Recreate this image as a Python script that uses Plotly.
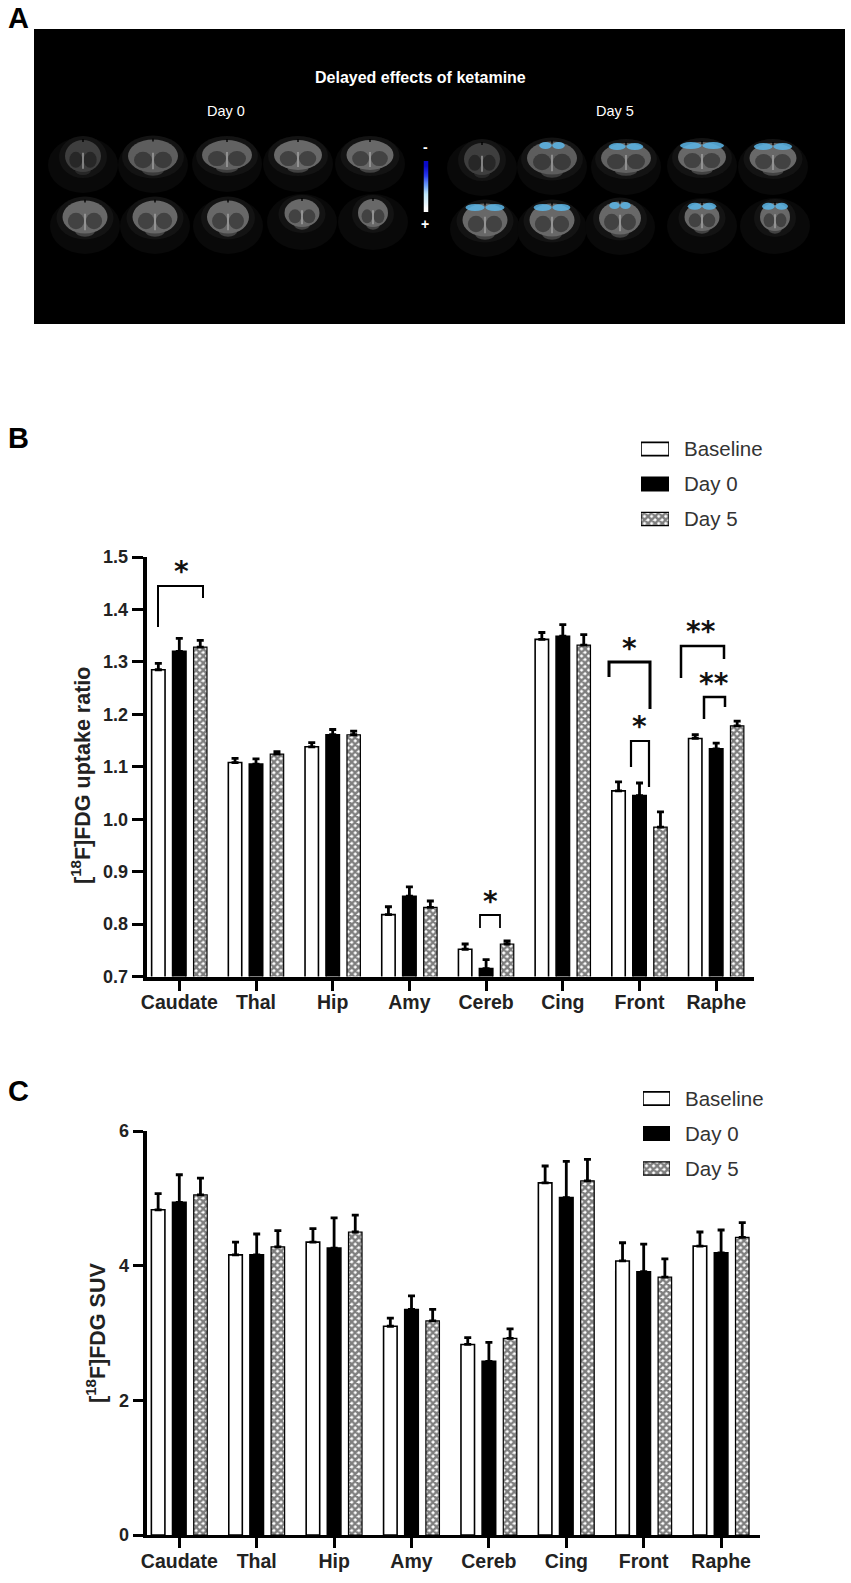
import plotly.graph_objects as go

W, H = 851, 1583

# ---------- data ----------
regions = ["Caudate", "Thal", "Hip", "Amy", "Cereb", "Cing", "Front", "Raphe"]
groups = ["Baseline", "Day 0", "Day 5"]

ratio_baseline = [1.285, 1.108, 1.138, 0.818, 0.752, 1.343, 1.054, 1.154]
ratio_day0 = [1.320, 1.105, 1.161, 0.853, 0.715, 1.349, 1.045, 1.134]
ratio_day5 = [1.328, 1.124, 1.161, 0.832, 0.762, 1.332, 0.985, 1.178]
ratio_err_baseline = [0.012, 0.008, 0.008, 0.015, 0.010, 0.013, 0.017, 0.007]
ratio_err_day0 = [0.025, 0.010, 0.010, 0.018, 0.017, 0.022, 0.024, 0.011]
ratio_err_day5 = [0.013, 0.005, 0.007, 0.012, 0.006, 0.020, 0.029, 0.009]

suv_baseline = [4.83, 4.16, 4.35, 3.10, 2.83, 5.23, 4.07, 4.29]
suv_day0 = [4.94, 4.16, 4.26, 3.35, 2.58, 5.01, 3.91, 4.19]
suv_day5 = [5.05, 4.28, 4.50, 3.18, 2.92, 5.26, 3.83, 4.42]
suv_err_baseline = [0.24, 0.19, 0.20, 0.12, 0.10, 0.25, 0.27, 0.21]
suv_err_day0 = [0.41, 0.31, 0.45, 0.20, 0.28, 0.54, 0.41, 0.34]
suv_err_day5 = [0.25, 0.24, 0.25, 0.17, 0.14, 0.32, 0.27, 0.22]

ratio_ticks = [0.7, 0.8, 0.9, 1.0, 1.1, 1.2, 1.3, 1.4, 1.5]
suv_ticks = [0, 2, 4, 6]
scale_levels = [0, 0.25, 0.5, 0.7, 0.85, 1]

FONT = "Liberation Sans"


def px(x):
    return x / W


def py(y):
    return 1 - y / H


def dx(a, b):
    return [px(a), px(b)]


def dy(top, bottom):
    return [py(bottom), py(top)]


def style(i):
    if i == 0:
        return dict(color="white", line=dict(color="black", width=1.6))
    if i == 1:
        return dict(color="black", line=dict(color="black", width=1.6))
    return dict(
        color="white",
        line=dict(color="black", width=1.2),
        pattern=dict(shape="x", fgcolor="black", bgcolor="white", size=5, solidity=0.72),
    )


fig = go.Figure()

# ---------- panels B and C ----------
ratio_sets = [(ratio_baseline, ratio_err_baseline), (ratio_day0, ratio_err_day0), (ratio_day5, ratio_err_day5)]
suv_sets = [(suv_baseline, suv_err_baseline), (suv_day0, suv_err_day0), (suv_day5, suv_err_day5)]
for sets, xa, ya in ((ratio_sets, "x", "y"), (suv_sets, "x2", "y2")):
    for i, (vals, errs) in enumerate(sets):
        fig.add_trace(go.Bar(
            x=list(range(len(regions))), y=vals, name=groups[i], showlegend=False,
            xaxis=xa, yaxis=ya, marker=style(i),
            error_y=dict(type="data", array=errs, symmetric=False, color="black", thickness=2.8, width=3.5),
        ))

# ---------- swatch legends, drawn as small bar plots ----------
for xa, ya in (("x3", "y3"), ("x4", "y4")):
    for i, g in enumerate(groups):
        fig.add_trace(go.Bar(
            y=[g], x=[1], orientation="h", showlegend=False, xaxis=xa, yaxis=ya,
            width=0.38, offsetgroup="sw", marker=style(i),
        ))

# ---------- colour scale of panel A ----------
fig.add_trace(go.Heatmap(
    z=[[v] for v in scale_levels], xaxis="x5", yaxis="y5", showscale=False, zsmooth="best",
    colorscale=[[0, "#0a0ac8"], [0.3, "#2a3cf0"], [0.55, "#6a9cf8"], [0.75, "#bfe8fb"], [1, "#ffffff"]],
))

cat_axis = dict(
    tickmode="array", tickvals=list(range(len(regions))), ticktext=regions,
    showgrid=False, zeroline=False, ticks="outside", tickcolor="black", tickwidth=3, ticklen=10,
    linecolor="black", showline=True, tickfont=dict(family=FONT, size=19.5, color="#222222", weight="bold"),
)
val_axis = dict(
    tickmode="array", showgrid=False, zeroline=False, ticks="outside", tickcolor="black",
    tickwidth=3, ticklen=11, linecolor="black", showline=True, linewidth=4,
    tickfont=dict(family=FONT, size=18, color="#222222", weight="bold"),
)
hidden = dict(visible=False, fixedrange=True)
legend_y = dict(
    type="category", showgrid=False, zeroline=False, showline=False, ticks="", side="right",
    autorange="reversed", ticklabelstandoff=14, tickfont=dict(family=FONT, size=20.5, color="#333333"),
)

fig.update_layout(
    width=W, height=H, margin=dict(l=0, r=0, t=0, b=0, pad=0, autoexpand=False), autosize=False,
    paper_bgcolor="white", plot_bgcolor="rgba(0,0,0,0)",
    barmode="group", bargap=0.18, bargroupgap=0.36, showlegend=False,
    xaxis=dict(cat_axis, domain=dx(146.7, 754), range=[(146.7 - 179.3) / 76.7, (754 - 179.3) / 76.7],
               linewidth=4, anchor="y", ticklabelstandoff=-5),
    yaxis=dict(val_axis, domain=dy(557, 976.5), range=[0.7, 1.5], tickvals=ratio_ticks, tickformat=".1f", anchor="x"),
    xaxis2=dict(cat_axis, domain=dx(146.7, 760), range=[(146.7 - 179.3) / 77.4, (760 - 179.3) / 77.4],
                linewidth=3, anchor="y2", ticklabelstandoff=-3),
    yaxis2=dict(val_axis, domain=dy(1131, 1535), range=[0, 6], tickvals=suv_ticks, anchor="x2", ticklen=10),
    xaxis3=dict(hidden, domain=dx(641, 669), range=[0, 1], anchor="y3"),
    yaxis3=dict(legend_y, domain=dy(431.5, 536.5), anchor="x3"),
    xaxis4=dict(hidden, domain=dx(643, 670), range=[0, 1], anchor="y4"),
    yaxis4=dict(legend_y, domain=dy(1081, 1186), anchor="x4"),
    xaxis5=dict(hidden, domain=dx(423.5, 428.5), anchor="y5"),
    yaxis5=dict(hidden, domain=dy(161, 212), autorange="reversed", anchor="x5"),
    font=dict(family=FONT, color="black"),
)

# ---------- panel A: black image with schematic brain sections ----------
shapes = []


def rect(x0, y0, x1, y1, fill):
    shapes.append(dict(type="rect", xref="paper", yref="paper", x0=px(x0), x1=px(x1), y0=py(y1), y1=py(y0),
                       fillcolor=fill, line=dict(width=0), layer="below"))


def oval(cx, cy, w, h, fill, op=1.0):
    shapes.append(dict(type="circle", xref="paper", yref="paper", x0=px(cx - w / 2), x1=px(cx + w / 2),
                       y0=py(cy + h / 2), y1=py(cy - h / 2), fillcolor=fill, opacity=op,
                       line=dict(width=0), layer="below"))


rect(34, 29, 845, 324, "black")

slice_shape = [(36, 32, 0.6), (50, 33, 0.9), (50, 30, 0.95), (48, 30, 1.0), (47, 30, 1.0),
               (45, 33, 1.0), (45, 33, 1.0), (42, 33, 1.0), (35, 28, 1.0), (30, 28, 1.0)]
day0_centres = [(83, 156), (153, 156), (227, 155), (298, 155), (370, 155),
                (85, 217), (155, 217), (228, 217), (302, 213), (373, 213)]
day5_centres = [(482, 159), (552, 158), (626, 158), (702, 157), (773, 158),
                (485, 220), (552, 220), (620, 218), (702, 217), (775, 217)]
day5_caps = [0, 0.5, 0.68, 0.9, 0.8, 0.85, 0.8, 0.5, 0.8, 0.85]


def brain(cx, cy, w, h, level, cap=0.0):
    g = int(104 * level)
    d = int(66 * level)
    oval(cx, cy + 9, 70, 56, "#090909")
    oval(cx, cy + 1, w + 12, h + 10, "#131313")
    oval(cx, cy + h * 0.42, w * 0.45, h * 0.35, f"rgb({d},{d},{d})")
    oval(cx, cy, w, h, f"rgb({g},{g},{g})")
    oval(cx - w * 0.2, cy + h * 0.12, w * 0.36, h * 0.5, f"rgb({d},{d},{d})")
    oval(cx + w * 0.2, cy + h * 0.12, w * 0.36, h * 0.5, f"rgb({d},{d},{d})")
    rect(cx - 0.6, cy - h * 0.1, cx + 0.6, cy + h * 0.4, "#b0b0b0")
    rect(cx - 0.7, cy - h / 2 - 1, cx + 0.7, cy - h / 2 + 2, "#000000")
    if cap:
        oval(cx - w * cap * 0.26, cy - h * 0.38, w * cap * 0.5, 7, "#5cb6e8", 0.85)
        oval(cx + w * cap * 0.26, cy - h * 0.38, w * cap * 0.5, 7, "#5cb6e8", 0.85)


for (c, sh) in zip(day0_centres, slice_shape):
    brain(c[0], c[1], sh[0], sh[1], sh[2])
for (c, sh, cp) in zip(day5_centres, slice_shape, day5_caps):
    brain(c[0], c[1], sh[0], sh[1], sh[2], cp)

# ---------- significance brackets ----------
brackets = [
    (158, 627, 586, 203, 598, 2.0),
    (609, 677, 662, 650, 709, 3.0),
    (631, 767, 741, 649, 787, 2.2),
    (681, 678, 646, 724, 659, 2.5),
    (704, 719, 697, 725, 707, 2.5),
    (480, 928, 915, 500, 928, 1.8),
]
for xl, yl, yt, xr, yr, lw in brackets:
    path = f"M {px(xl)} {py(yl)} L {px(xl)} {py(yt)} L {px(xr)} {py(yt)} L {px(xr)} {py(yr)}"
    shapes.append(dict(type="path", xref="paper", yref="paper", path=path, line=dict(color="black", width=lw)))

fig.update_layout(shapes=shapes)


# ---------- texts ----------
def note(x, y, text, size=14, color="black", bold=False, angle=0, family=FONT, anchor="center"):
    fig.add_annotation(
        xref="paper", yref="paper", x=px(x), y=py(y), text=text, showarrow=False, textangle=angle,
        xanchor=anchor, yanchor="middle",
        font=dict(family=family, size=size, color=color, weight="bold" if bold else "normal"),
    )


note(6, 18, "A", 29, bold=True, anchor="left")
note(6, 438, "B", 29, bold=True, anchor="left")
note(6, 1091, "C", 29, bold=True, anchor="left")

note(420, 78, "Delayed effects of ketamine", 16, "white", bold=True)
note(226, 111, "Day 0", 14.5, "white")
note(615, 111, "Day 5", 14.5, "white")
note(425, 147, "-", 14, "white", bold=True)
note(425, 224, "+", 14, "white", bold=True)

note(81, 776, "[<sup>18</sup>F]FDG uptake ratio", 21.5, "#222222", bold=True, angle=-90)
note(96, 1333, "[<sup>18</sup>F]FDG SUV", 21.5, "#222222", bold=True, angle=-90)

STAR = "DejaVu Sans"
for x, y, t in [(181, 568, "*"), (629, 644, "*"), (639, 722, "*"), (490, 897, "*"), (701, 628, "**"), (714, 679, "**")]:
    note(x, y + 4, t, 28, "#111111", bold=True, family=STAR)

fig.write_html(
    "out.html",
    config={"displayModeBar": False, "responsive": False},
    post_script="var s=document.createElement('style');s.textContent='html,body{margin:0!important;padding:0!important;overflow:hidden}';document.head.appendChild(s);",
)
